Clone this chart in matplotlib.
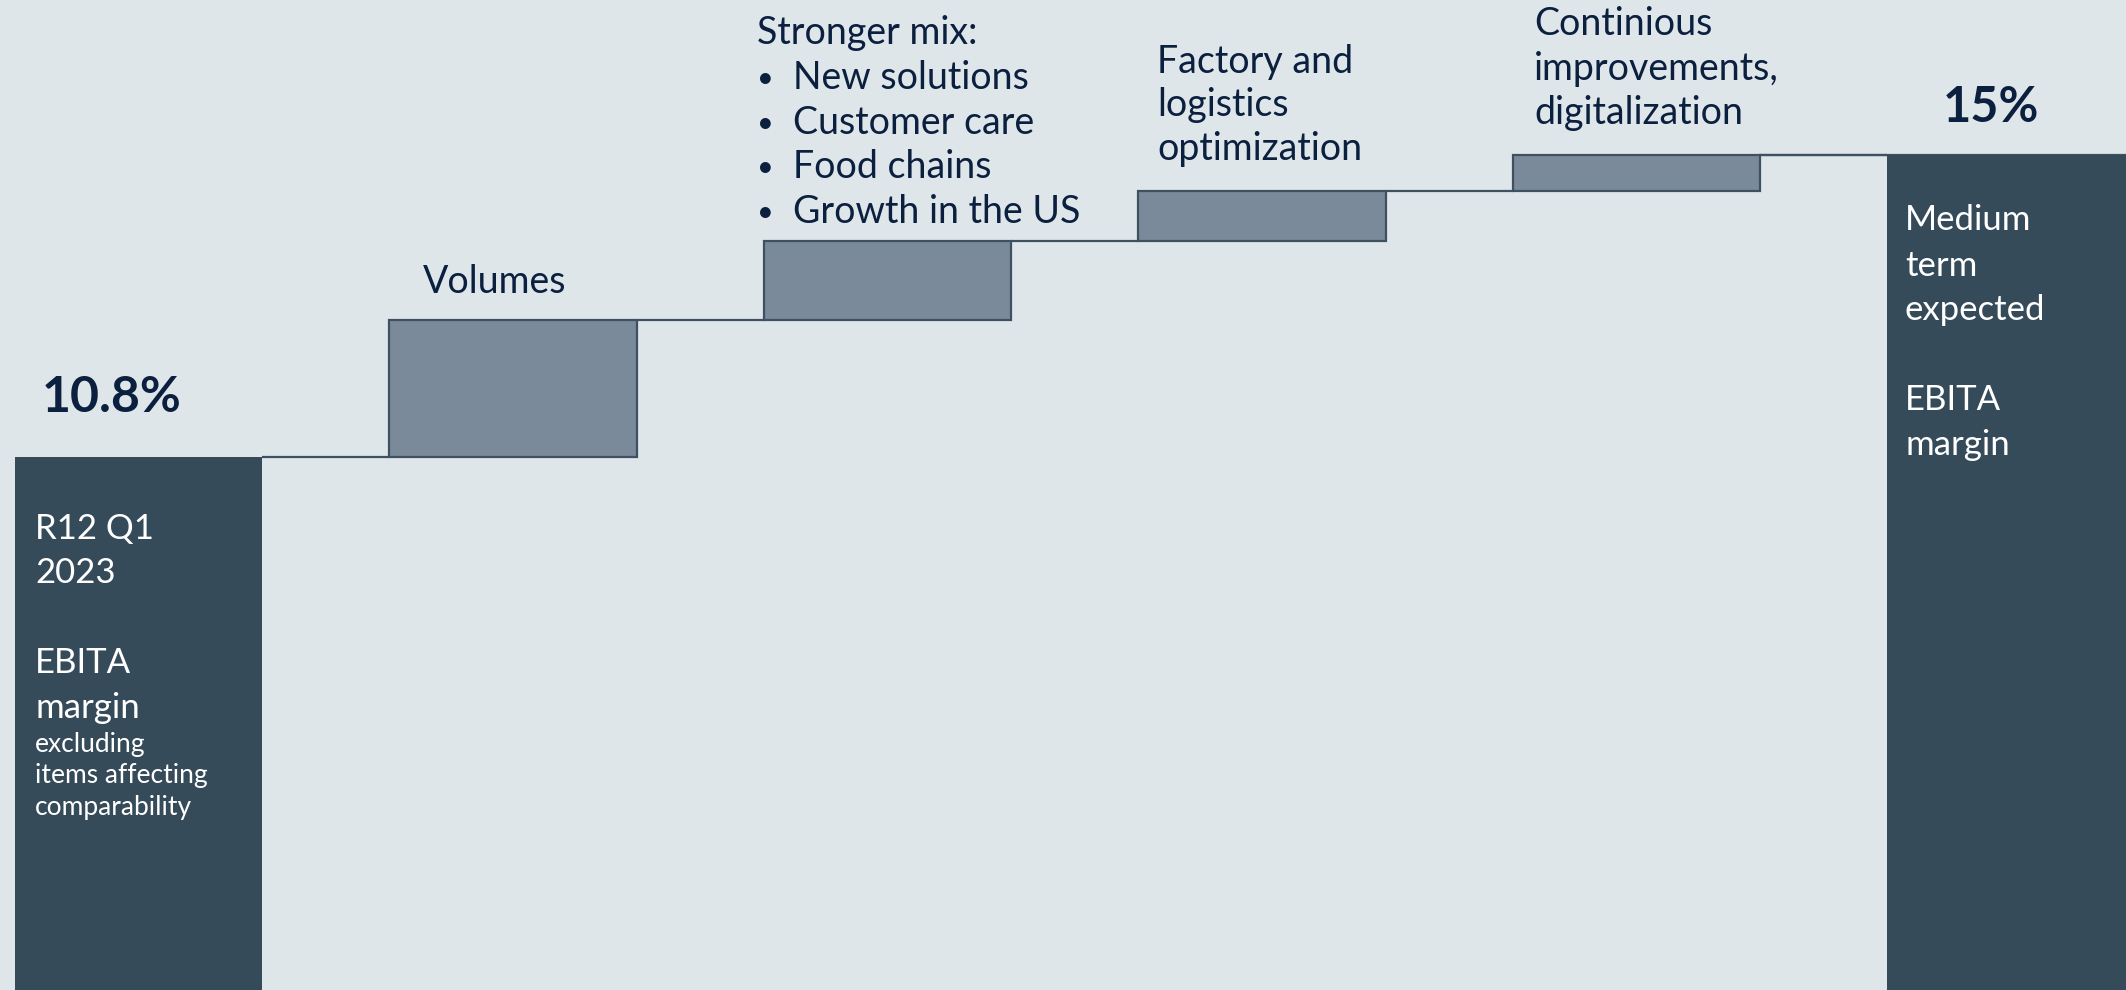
import matplotlib
matplotlib.use("Agg")
import matplotlib.pyplot as plt
import numpy as np

# ---- data ----
categories = ["R12 Q1 2023", "Volumes", "Stronger mix", "Factory and logistics optimization",
              "Continious improvements, digitalization", "Medium term expected"]
start_value = 10.8
increments = [1.9, 1.1, 0.7, 0.5]
end_value = 15.0
start_label = "10.8%"
end_label = "15%"

BG = "#dfe6ea"
DARK = "#364b59"
GREY = "#7b8a9b"
EDGE = "#3e5161"
NAVY = "#0b1f3e"
WHITE = "#ffffff"

W, H = 2126, 990
fig = plt.figure(figsize=(W / 100, H / 100), dpi=100, facecolor=BG)
ax = fig.add_axes([0, 0, 1, 1], facecolor=BG)
ax.set_xlim(-0.37, 5.307)
ax.set_ylim(3.368, 17.164)
ax.axis("off")

bw = 0.66
x = np.arange(len(categories))
# totals
ax.bar([x[0], x[-1]], [start_value, end_value], width=bw, color=DARK, edgecolor="none", zorder=2)
# increments
bottoms = start_value + np.concatenate([[0], np.cumsum(increments)[:-1]])
ax.bar(x[1:-1], increments, bottom=bottoms, width=bw, color=GREY, edgecolor=EDGE,
       linewidth=1.6, zorder=3)
# connectors
levels = start_value + np.concatenate([[0], np.cumsum(increments)])
for i in range(len(categories) - 1):
    ax.plot([x[i] + bw / 2, x[i + 1] - bw / 2], [levels[i], levels[i]],
            color=EDGE, linewidth=1.6, zorder=1, solid_capstyle="butt")
ax.plot([x[-2] + bw / 2, x[-1] + bw / 2 + 1], [end_value, end_value], color=EDGE,
        linewidth=1.6, zorder=1)

FONT = ["Lato", "DejaVu Sans"]


def txt(px, py, s, size, color=NAVY, weight="normal", ha="left"):
    fig.text(px / W, 1 - py / H, s, fontsize=size, color=color, fontweight=weight,
             ha=ha, va="baseline", family=FONT)


# percent labels
txt(112, 412, start_label, 36, weight="bold", ha="center")
txt(1991, 122, end_label, 35, weight="bold", ha="center")

# left bar text
for s, yy in [("R12 Q1", 539), ("2023", 583), ("EBITA", 673), ("margin", 718)]:
    txt(35, yy, s, 25, color=WHITE)
for s, yy in [("excluding", 752), ("items affecting", 783), ("comparability", 815)]:
    txt(35, yy, s, 19, color=WHITE)

# right bar text
for s, yy in [("Medium", 230), ("term", 276), ("expected", 320), ("EBITA", 410), ("margin", 455)]:
    txt(1905, yy, s, 25, color=WHITE)

# category labels
txt(423, 293, "Volumes", 27)
txt(757, 44, "Stronger mix:", 27)
for s, yy in [("New solutions", 89), ("Customer care", 134), ("Food chains", 178),
              ("Growth in the US", 223)]:
    txt(757, yy - 2, "\u2022", 21)
    txt(793, yy, s, 27)
for s, yy in [("Factory and", 73), ("logistics", 116), ("optimization", 160)]:
    txt(1157, yy, s, 27)
for s, yy in [("Continious", 35), ("improvements,", 80), ("digitalization", 124)]:
    txt(1534, yy, s, 27)

fig.savefig("out.png", dpi=100, facecolor=BG)
